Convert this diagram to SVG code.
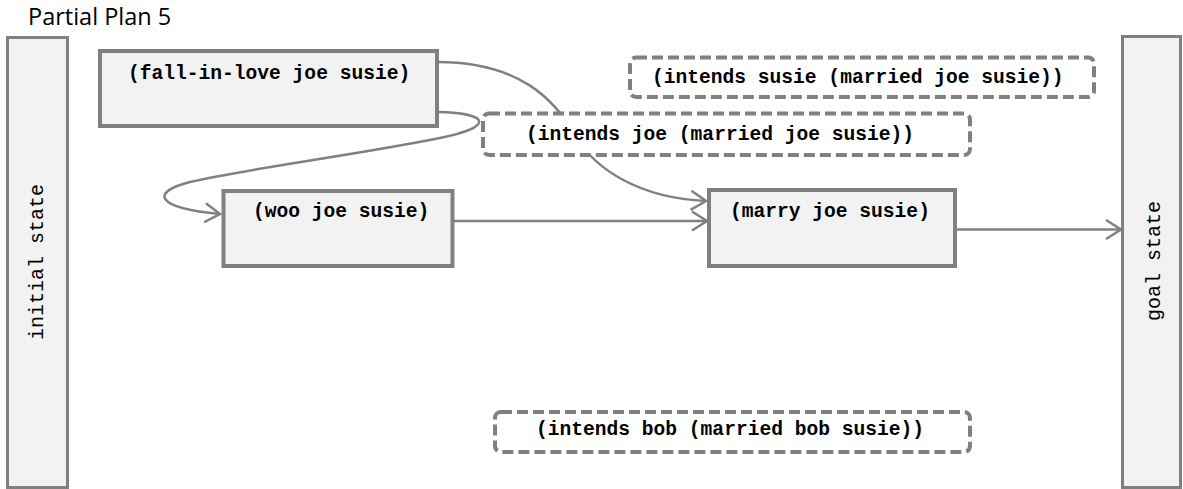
<svg xmlns="http://www.w3.org/2000/svg" width="1183" height="489" viewBox="0 0 1183 489">
  <style>
    .title { font-family: "Open Sans", "Liberation Sans", sans-serif; font-size: 23.5px; fill: #000; }
    .step { fill: #f2f2f2; stroke: #808080; stroke-width: 4; }
    .bar { fill: #f2f2f2; stroke: #808080; stroke-width: 3; }
    .goal { fill: #ffffff; stroke: #808080; stroke-width: 4; stroke-dasharray: 11 5; }
    .lbl { font-family: "Liberation Mono", "Courier New", monospace; font-size: 19.6px; font-weight: bold; fill: #000; }
    .side { font-family: "Liberation Mono", "Courier New", monospace; font-size: 20px; fill: #000; text-anchor: middle; }
    .link { fill: none; stroke: #808080; stroke-width: 2.5; marker-end: url(#chev); }
  </style>
  <defs>
    <marker id="chev" markerUnits="userSpaceOnUse" viewBox="-18 -12 20 24" markerWidth="20" markerHeight="24" refX="0" refY="0" orient="auto">
      <path d="M-15,-9.5 L0,0 L-15,9.5" fill="none" stroke="#808080" stroke-width="2.5"/>
    </marker>
  </defs>

  <rect width="1183" height="489" fill="#ffffff"/>

  <text class="title" x="28" y="25">Partial Plan 5</text>

  <!-- causal links and ordering -->
  <g id="connectors">
    <path class="link" d="M437,62 C520,62 555,100 575,135 C595,170 640,198 706,201"/>
    <path class="link" d="M438,112 C490,113 495,127 440,138 C350,156 250,168 190,182 C150,192 155,208 220,214"/>
    <path class="link" d="M453,221 L707,221"/>
    <path class="link" d="M955,229.5 L1121,229.5"/>
  </g>

  <g id="initial-state">
    <rect class="bar" x="7.5" y="37.5" width="60" height="450"/>
    <text class="side" transform="translate(43,262) rotate(-90)">initial state</text>
  </g>

  <g id="goal-state">
    <rect class="bar" x="1122.5" y="36.5" width="58" height="451"/>
    <text class="side" transform="translate(1160,261) rotate(-90)">goal state</text>
  </g>

  <g id="fall-in-love">
    <rect class="step" x="100" y="51" width="337" height="75"/>
    <text class="lbl" x="128" y="79">(fall-in-love joe susie)</text>
  </g>

  <g id="woo">
    <rect class="step" x="223.5" y="191" width="229" height="75"/>
    <text class="lbl" x="253" y="217">(woo joe susie)</text>
  </g>

  <g id="marry">
    <rect class="step" x="709" y="190" width="246" height="76"/>
    <text class="lbl" x="730" y="217">(marry joe susie)</text>
  </g>

  <g id="intends-susie">
    <rect class="goal" x="630" y="57.5" width="464" height="39.5" rx="6"/>
    <text class="lbl" x="652" y="83">(intends susie (married joe susie))</text>
  </g>

  <g id="intends-joe">
    <rect class="goal" x="483" y="113.5" width="487" height="41.5" rx="6"/>
    <text class="lbl" x="526" y="139.5">(intends joe (married joe susie))</text>
  </g>

  <g id="intends-bob">
    <rect class="goal" x="495" y="412" width="475" height="40" rx="6"/>
    <text class="lbl" x="536" y="435">(intends bob (married bob susie))</text>
  </g>
</svg>
